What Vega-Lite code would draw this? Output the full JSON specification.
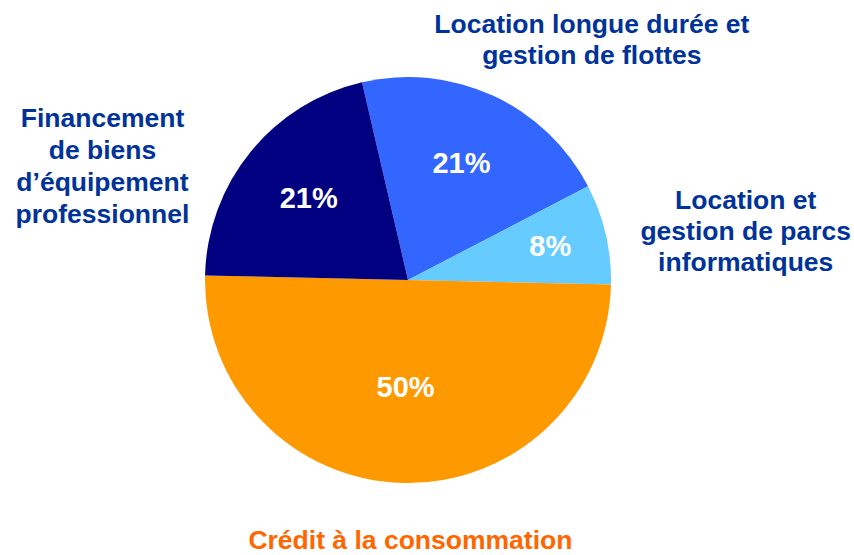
{
  "$schema": "https://vega.github.io/schema/vega-lite/v6.json",
  "width": 816,
  "height": 552,
  "autosize": {"type": "none"},
  "padding": {"top": 4, "left": 0, "right": 38, "bottom": 0},
  "background": "white",
  "config": {"view": {"stroke": null}, "font": "Liberation Sans"},
  "data": {
    "values": [
      {"cat": "Location longue durée et gestion de flottes", "label": "Location longue durée et\ngestion de flottes", "value": 21, "pct": "21%", "order": 1},
      {"cat": "Location et gestion de parcs informatiques", "label": "Location et\ngestion de parcs\ninformatiques", "value": 8, "pct": "8%", "order": 2},
      {"cat": "Crédit à la consommation", "label": "Crédit à la consommation", "value": 50, "pct": "50%", "order": 3},
      {"cat": "Financement de biens d'équipement professionnel", "label": "Financement\nde biens\nd’équipement\nprofessionnel", "value": 21, "pct": "21%", "order": 4}
    ]
  },
  "encoding": {
    "theta": {"field": "value", "type": "quantitative", "stack": true, "scale": {"range": [-0.2286, 6.0546]}},
    "order": {"field": "order", "type": "quantitative"}
  },
  "layer": [
    {
      "mark": {"type": "arc", "outerRadius": 203},
      "encoding": {
        "color": {
          "field": "cat", "type": "nominal", "legend": null,
          "scale": {
            "domain": ["Location longue durée et gestion de flottes", "Location et gestion de parcs informatiques", "Crédit à la consommation", "Financement de biens d'équipement professionnel"],
            "range": ["#3366FF", "#66CCFF", "#FF9900", "#000080"]
          }
        }
      }
    },
    {
      "mark": {"type": "text", "fontSize": 29, "fontWeight": "bold", "color": "white", "align": "center", "baseline": "middle", "radius": 128},
      "encoding": {"text": {"condition": {"test": "datum.order === 1 || datum.order === 4", "field": "pct"}, "value": ""}}
    },
    {
      "mark": {"type": "text", "fontSize": 29, "fontWeight": "bold", "color": "white", "align": "center", "baseline": "middle", "radius": 146},
      "encoding": {"text": {"condition": {"test": "datum.order === 2", "field": "pct"}, "value": ""}}
    },
    {
      "mark": {"type": "text", "fontSize": 29, "fontWeight": "bold", "color": "white", "align": "center", "baseline": "middle", "radius": 108},
      "encoding": {"text": {"condition": {"test": "datum.order === 3", "field": "pct"}, "value": ""}}
    },
    {
      "mark": {"type": "text", "fontSize": 26.5, "fontWeight": "bold", "color": "#003399", "align": "center", "baseline": "middle", "lineBreak": "\n", "lineHeight": 31, "radius": 203, "dx": 99, "dy": -71},
      "encoding": {"text": {"condition": {"test": "datum.order === 1", "field": "label"}, "value": ""}}
    },
    {
      "mark": {"type": "text", "fontSize": 26.5, "fontWeight": "bold", "color": "#003399", "align": "center", "baseline": "middle", "lineBreak": "\n", "lineHeight": 31, "radius": 203, "dx": 140, "dy": -33},
      "encoding": {"text": {"condition": {"test": "datum.order === 2", "field": "label"}, "value": ""}}
    },
    {
      "mark": {"type": "text", "fontSize": 26.5, "fontWeight": "bold", "color": "#FF6600", "align": "center", "baseline": "middle", "lineBreak": "\n", "lineHeight": 31, "radius": 203, "dx": 7, "dy": 58},
      "encoding": {"text": {"condition": {"test": "datum.order === 3", "field": "label"}, "value": ""}}
    },
    {
      "mark": {"type": "text", "fontSize": 26.5, "fontWeight": "bold", "color": "#003399", "align": "center", "baseline": "middle", "lineBreak": "\n", "lineHeight": 32, "radius": 203, "dx": -148, "dy": -33},
      "encoding": {"text": {"condition": {"test": "datum.order === 4", "field": "label"}, "value": ""}}
    }
  ]
}
